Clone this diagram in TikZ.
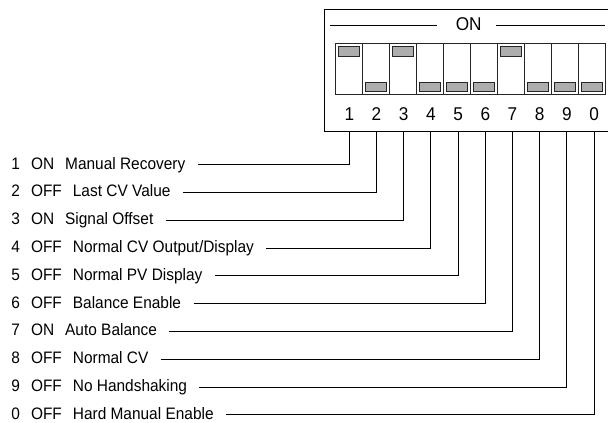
\documentclass[tikz,border=0pt]{standalone}
\usepackage{fontspec}
\setmainfont{Liberation Sans}[FakeStretch=0.93]
\begin{document}
\begin{tikzpicture}[x=1pt,y=-1pt,line width=0.9pt,
  lbl/.style={inner sep=0pt,anchor=base west,font=\fontsize{16.6}{18}\selectfont},
  numf/.style={inner sep=0pt,anchor=base,font=\fontsize{18.5}{20}\selectfont},
  swcol/.style={draw=black!85,line width=0.9pt,fill=white},
  knob/.style={draw=black!85,line width=0.8pt,fill=black!32},
  conn/.style={draw=black,line width=0.9pt}]
\useasboundingbox (0,0) rectangle (608,423);
\clip (0,0) rectangle (608,423);
% housing
\draw (324,9) rectangle (650,131);
\node[numf] (on) at (468.7,30.7) {ON};
\draw (330,25) -- (437,25);
\draw (496,25) -- (605,25);
% switches
\foreach \st [count=\i from 0] in {1,0,1,0,0,0,1,0,0,0} {
  \draw[swcol] ({335.3+27*\i},43) rectangle +(27,51.3);
  \ifnum\st=1
    \draw[knob] ({338.3+27*\i},46.5) rectangle +(21,9.5);
  \else
    \draw[knob] ({338.3+27*\i},82.3) rectangle +(21,9.5);
  \fi
}
% numbers and pins
\foreach \d [count=\i from 0] in {1,2,3,4,5,6,7,8,9,0} {
  \node[numf] (n\i) at ({349.3+27.2*\i},120) {\d};
  \coordinate (p\i) at ({349.3+27.2*\i},131);
}
% labels and connectors
\foreach \n/\s/\t [count=\i from 0] in {
  1/ON/{Manual Recovery},
  2/OFF/{Last CV Value},
  3/ON/{Signal Offset},
  4/OFF/{Normal CV Output/Display},
  5/OFF/{Normal PV Display},
  6/OFF/{Balance Enable},
  7/ON/{Auto Balance},
  8/OFF/{Normal CV},
  9/OFF/{No Handshaking},
  0/OFF/{Hard Manual Enable}} {
  \node[lbl] (l\i) at (11,{169+27.8*\i}) {\n\hspace{11pt}\s\hspace{11pt}\t};
  \draw[conn] ([shift={(12pt,4.3pt)}]l\i.base east) -| (p\i);
}
\end{tikzpicture}
\end{document}
